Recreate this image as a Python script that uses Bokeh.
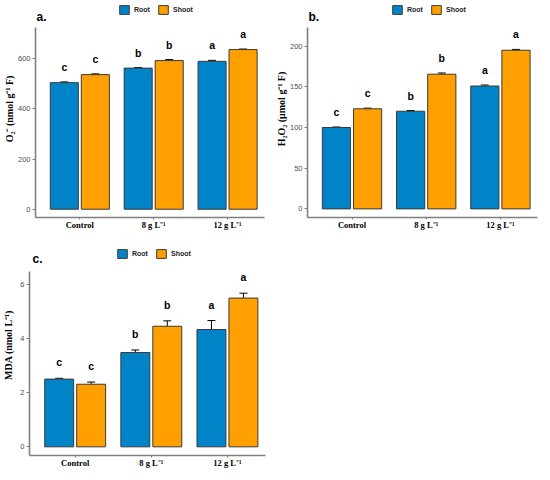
from bokeh.plotting import figure
from bokeh.models import (ColumnDataSource, Range1d, FixedTicker, Whisker, TeeHead,
                          Legend, LegendItem, Label)
from bokeh.layouts import column, row
from bokeh.embed import file_html
from bokeh.resources import INLINE
from bokeh.core.properties import value

categories = ["Control", "8 g L\u207b\u00b9", "12 g L\u207b\u00b9"]
series_names = ["Root", "Shoot"]

o2_root = [505, 563, 590]
o2_root_se = [3, 2, 4]
o2_shoot = [537, 593, 637]
o2_shoot_se = [3, 4, 2]
o2_ticks = [0, 200, 400, 600]

h2o2_root = [100, 120, 151]
h2o2_root_se = [0.6, 0.8, 1.2]
h2o2_shoot = [123, 165.5, 195]
h2o2_shoot_se = [0.8, 1.5, 1.0]
h2o2_ticks = [0, 50, 100, 150, 200]

mda_root = [2.50, 3.48, 4.33]
mda_root_se = [0.03, 0.095, 0.33]
mda_shoot = [2.31, 4.45, 5.49]
mda_shoot_se = [0.08, 0.20, 0.18]
mda_ticks = [0, 2, 4, 6]

letters_root = ["c", "b", "a"]
letters_shoot = ["c", "b", "a"]

BLUE = "#0084C7"
ORANGE = "#FFA000"
AXIS_GREY = "#7F7F7F"


def panel(tag, vr, er, vs, es, ylab, yticks, y0, y1, yext, FW, FH, ml, mr, mb,
          std, leg_xy, tag_xy, letter_off):
    p = figure(frame_width=FW, frame_height=FH, x_range=Range1d(0.4, 3.5),
               y_range=Range1d(y0, yext),
               output_backend="svg", toolbar_location=None,
               min_border_left=ml, min_border_right=mr, min_border_top=0,
               min_border_bottom=mb)
    p.outline_line_color = None
    p.xgrid.visible = False
    p.ygrid.visible = False
    p.background_fill_color = "white"

    xs = [i + 1 for i in range(len(categories))]
    off = 0.21
    renderers = []
    for vals, errs, lets, col, sign in ((vr, er, letters_root, BLUE, -1),
                                        (vs, es, letters_shoot, ORANGE, 1)):
        src = ColumnDataSource(dict(
            x=[x + sign * off for x in xs], top=vals,
            upper=[v + e for v, e in zip(vals, errs)],
            lower=[v - e for v, e in zip(vals, errs)],
            lab=lets))
        r = p.vbar(x="x", top="top", bottom=0, width=0.38, source=src,
                   fill_color=col, line_color="#3A3A3A", line_width=1)
        renderers.append(r)
        w = Whisker(base="x", upper="upper", lower="lower", source=src,
                    line_color="black", line_width=1,
                    upper_head=TeeHead(size=8, line_color="black", line_width=1),
                    lower_head=TeeHead(size=8, line_color="black", line_width=1))
        p.add_layout(w)
        p.text(x="x", y="upper", text="lab", source=src, text_align="center",
               text_baseline="middle", y_offset=letter_off,
               text_font=value("Liberation Sans"), text_font_style="bold",
               text_font_size="10.5px", text_color="black")

    for ax in (p.xaxis[0], p.yaxis[0]):
        ax.axis_line_color = AXIS_GREY
        ax.axis_line_width = 1.6
        ax.major_tick_line_color = AXIS_GREY
        ax.major_tick_line_width = 1
        ax.major_tick_in = 0
        ax.minor_tick_line_color = None
    p.yaxis.major_tick_out = 3
    p.yaxis.major_label_standoff = 2
    p.xaxis.major_tick_out = 2
    p.xaxis.major_label_standoff = 0

    p.yaxis.bounds = (y0, y1)

    p.xaxis.ticker = FixedTicker(ticks=xs)
    p.xaxis.major_label_overrides = {x: c for x, c in zip(xs, categories)}
    p.xaxis.major_label_text_font = "Liberation Serif"
    p.xaxis.major_label_text_font_style = "bold"
    p.xaxis.major_label_text_font_size = "8.5px"
    p.xaxis.major_label_text_color = "black"

    p.yaxis.ticker = FixedTicker(ticks=yticks)
    p.yaxis.major_label_text_font = "Liberation Sans"
    p.yaxis.major_label_text_font_size = "7.5px"
    p.yaxis.major_label_text_color = "#4D4D4D"
    p.yaxis.axis_label = ylab
    p.yaxis.axis_label_text_font = "Liberation Serif"
    p.yaxis.axis_label_text_font_style = "bold"
    p.yaxis.axis_label_text_font_size = "10px"
    p.yaxis.axis_label_text_color = "black"
    p.yaxis.axis_label_standoff = std

    legend = Legend(items=[LegendItem(label=n, renderers=[r]) for n, r in zip(series_names, renderers)],
                    location=leg_xy, orientation="horizontal", padding=0, margin=0,
                    spacing=3, label_standoff=4, glyph_width=12, glyph_height=11,
                    label_height=11, border_line_color=None, background_fill_alpha=0,
                    label_text_font="Liberation Sans", label_text_font_style="bold",
                    label_text_font_size="7px", label_text_color="#222222")
    p.add_layout(legend)

    p.add_layout(Label(x=tag_xy[0], y=tag_xy[1], x_units="screen", y_units="screen",
                       text=tag, text_font="Liberation Sans", text_font_style="bold",
                       text_font_size="12px", text_baseline="middle", text_color="black"))
    return p


pa = panel("a.", o2_root, o2_root_se, o2_shoot, o2_shoot_se,
           "O\u2082\u207b (nmol g\u207b\u00b9 F)", o2_ticks, -33, 725, 832.7,
           229, 217, 31, 7, 17, 0, (83, 202), (1, 200.5), -15)
pb = panel("b.", h2o2_root, h2o2_root_se, h2o2_shoot, h2o2_shoot_se,
           "H\u2082O\u2082 (\u03bcmol g\u207b\u00b9 F)", h2o2_ticks, -10.6, 222.9, 256.1,
           230, 217, 36, 1, 17, 0, (84, 202), (1, 201), -15)
pc = panel("c.", mda_root, mda_root_se, mda_shoot, mda_shoot_se,
           "MDA (nmol L\u207b\u00b9)", mda_ticks, -0.32, 6.47, 7.837,
           236, 221, 24, 7, 17, 3, (87, 196), (3, 197), -16)

layout = column(row(pa, pb), pc)
open("out.html", "w").write(file_html(layout, INLINE))
